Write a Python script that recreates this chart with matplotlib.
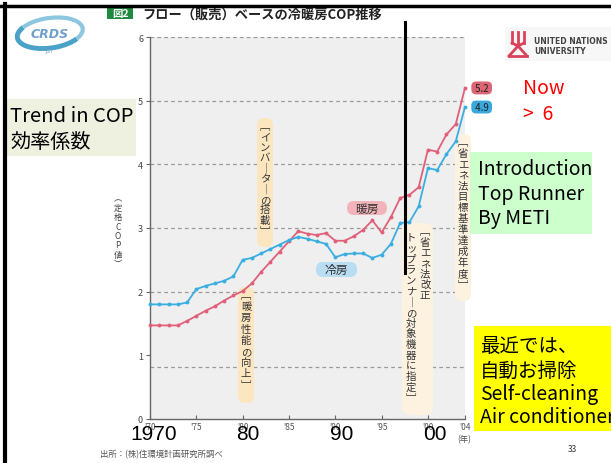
import matplotlib
matplotlib.use("Agg")
import matplotlib.pyplot as plt
from matplotlib.patches import FancyBboxPatch, Rectangle, Arc
from matplotlib.transforms import Affine2D
from matplotlib.lines import Line2D

plt.rcParams["font.family"] = ["Noto Sans CJK JP", "DejaVu Sans"]

# ---- data -------------------------------------------------------------
years = list(range(1970, 2005))
cooling = [1.80, 1.80, 1.80, 1.80, 1.83, 2.04, 2.09, 2.13, 2.17, 2.24,
           2.50, 2.53, 2.60, 2.67, 2.74, 2.81, 2.86, 2.83, 2.79, 2.75,
           2.54, 2.59, 2.60, 2.60, 2.53, 2.58, 2.75, 3.08, 3.09, 3.34,
           3.94, 3.91, 4.16, 4.36, 4.90]
heating = [1.47, 1.47, 1.47, 1.47, 1.54, 1.62, 1.70, 1.77, 1.86, 1.94,
           2.01, 2.13, 2.31, 2.47, 2.63, 2.79, 2.95, 2.91, 2.89, 2.92,
           2.80, 2.80, 2.87, 2.97, 3.12, 2.93, 3.17, 3.47, 3.52, 3.64,
           4.23, 4.20, 4.47, 4.63, 5.20]
xtick_years = [1970, 1975, 1980, 1985, 1990, 1995, 2000, 2004]
xtick_labels = ["'70", "'75", "'80", "'85", "'90", "'95", "'00", "'04"]
yticks = [0, 1, 2, 3, 4, 5, 6]
grid_levels = [0.82, 2, 3, 4, 5, 6]
decade_labels = ["1970", "80", "90", "00"]

RED = "#e0607a"
BLUE = "#3aaee0"

W, H = 611, 464
fig = plt.figure(figsize=(W / 100, H / 100), dpi=100)
fig.patch.set_facecolor("white")
# pixel coordinates, origin at the top-left corner
T = Affine2D().scale(1 / W, -1 / H).translate(0, 1) + fig.transFigure

ax = fig.add_axes([150 / W, 1 - 420 / H, 315 / W, 382 / H])
ax.set_xlim(1970, 2004)
ax.set_ylim(0, 6)
ax.set_facecolor("#efefef")

for v in grid_levels:
    ax.axhline(v, color="#9a9a9a", lw=0.9, ls=(0, (3, 2.5)), zorder=1)

ax.plot(years, heating, color=RED, lw=1.3, marker="o", ms=1.8,
        clip_on=False, zorder=4)
ax.plot(years, cooling, color=BLUE, lw=1.3, marker="o", ms=1.8,
        clip_on=False, zorder=4)

for s in ("top", "right"):
    ax.spines[s].set_visible(False)
for s in ("left", "bottom"):
    ax.spines[s].set_color("#666666")
    ax.spines[s].set_linewidth(1.0)

ax.set_yticks(yticks)
ax.set_yticklabels([str(v) for v in yticks], fontsize=6.5, color="#444444")
ax.set_xticks(xtick_years)
ax.set_xticklabels(xtick_labels, fontsize=6, color="#555555")
ax.tick_params(axis="y", direction="out", length=3, pad=2, color="#666666")
ax.tick_params(axis="x", direction="in", length=3, pad=2, color="#666666")


def vtext(x, y0, s, step, fs, color="#333333"):
    for i, ch in enumerate(s):
        ax.text(x, y0 + i * step, ch, transform=T, ha="center", va="center",
                fontsize=fs, color=color, clip_on=False, zorder=5)


def rbox(x0, y0, x1, y1, fc, r, z=2):
    p = FancyBboxPatch((x0, y0), x1 - x0, y1 - y0,
                       boxstyle=f"round,pad=0,rounding_size={r}",
                       transform=T, fc=fc, ec="none", zorder=z, clip_on=False)
    ax.add_artist(p)


# vertical annotations inside the plot
rbox(257, 119, 273, 248, "#fbe6c0", 7)
vtext(265, 127, "﹇インバ｜タ｜の搭載﹈", 10.4, 7.5)

rbox(238, 288, 254, 404, "#fbe6c0", 7)
vtext(246, 296, "﹇暖房性能の向上﹈", 11.2, 7.5)

rbox(402, 224, 433, 416, "#fdf2e0", 8)
vtext(425, 232, "﹇省エネ法改正", 10.7, 7.5)
vtext(411, 238, "トップランナ｜の対象機器に指定﹈", 10.7, 7.5)

rbox(455, 135, 471, 302, "#fdf2e0", 7)
vtext(463, 143, "﹇省エネ法目標基準達成年度﹈", 10.9, 7.5)

# series labels
rbox(347, 202, 387, 216, "#f2b3ba", 7, z=4.5)
ax.text(367, 209, "暖房", transform=T, ha="center", va="center", fontsize=8.5,
        color="#333333", zorder=5)
rbox(316, 263, 357, 278, "#b9ddf1", 7, z=4.5)
ax.text(336.5, 270.5, "冷房", transform=T, ha="center", va="center", fontsize=8.5,
        color="#333333", zorder=5)

# end-value badges
ax.text(2005.8, heating[-1], f" {heating[-1]:.1f} ", ha="center", va="center",
        fontsize=7, color="#222222", clip_on=False, zorder=5,
        bbox=dict(boxstyle="round,pad=0.15,rounding_size=0.5", fc="#dd6675", ec="none"))
ax.text(2005.8, cooling[-1], f" {cooling[-1]:.1f} ", ha="center", va="center",
        fontsize=7, color="#222222", clip_on=False, zorder=5,
        bbox=dict(boxstyle="round,pad=0.15,rounding_size=0.5", fc="#3aa8dc", ec="none"))

# y-axis caption, written vertically
for i, ch in enumerate("︵定格COP値︶"):
    fig.text(118, 199 + i * 9.4, ch, transform=T, ha="center", va="center",
             fontsize=6, color="#444444")

fig.text(464, 440, "(年)", transform=T, ha="center", va="center",
         fontsize=6, color="#555555")

# big decade labels under the axis
narrow = ["Liberation Sans Narrow", "Liberation Sans", "DejaVu Sans"]
for lab, xc in zip(decade_labels, [154, 248, 342, 435]):
    fig.text(xc, 435, lab, transform=T, ha="center", va="center",
             fontsize=15, color="black", family=narrow)

# marker line at the Top Runner revision
fig.add_artist(Line2D([405, 405], [23, 274], transform=T, color="black",
                      lw=2.2, zorder=6))

# header
fig.add_artist(Line2D([0, W], [6.5, 6.5], transform=T, color="black", lw=2.5))
fig.add_artist(Line2D([5, 5], [5, H], transform=T, color="black", lw=3))
fig.add_artist(Rectangle((107, 9), 26, 11, transform=T, fc="#1f8a3f", ec="none"))
fig.text(120, 14.5, "図2", transform=T, ha="center", va="center",
         fontsize=7.5, color="white", fontweight="bold")
fig.text(142, 15, "フロー（販売）ベースの冷暖房COP推移", transform=T,
         ha="left", va="center", fontsize=9.5, color="#222222",
         fontweight="bold")

# CRDS mark
fig.add_artist(Arc((50, 34), 66, 30, angle=-8, theta1=20, theta2=200,
                   transform=T, color="#4aa2c8", lw=3.5))
fig.add_artist(Arc((50, 34), 66, 30, angle=-8, theta1=200, theta2=380,
                   transform=T, color="#8cc6df", lw=3.0))
fig.text(50, 35, "CRDS", transform=T, ha="center", va="center", fontsize=9,
         color="#6f9fcc", fontstyle="italic", fontweight="bold",
         family=["DejaVu Sans"])
fig.text(50, 52, "JST", transform=T, ha="center", va="center", fontsize=4,
         color="#6f9fcc", fontstyle="italic", family=["DejaVu Sans"])

# UNU mark
fig.add_artist(Rectangle((505, 28), 106, 34, transform=T, fc="#f7f7f7", ec="none"))
for seg in ([(518, 518), (33, 47)], [(512, 512), (33, 44)], [(524, 524), (33, 44)],
            [(518, 509), (47, 57)], [(518, 527), (47, 57)],
            [(509, 527), (57, 57)], [(512, 518), (44, 47)], [(524, 518), (44, 47)]):
    fig.add_artist(Line2D(seg[0], seg[1], transform=T, color="#d9435a", lw=2))
fig.text(534, 42, "UNITED NATIONS", transform=T, ha="left", va="center",
         fontsize=5.5, color="#444444", fontweight="bold", family=["DejaVu Sans"])
fig.text(534, 51, "UNIVERSITY", transform=T, ha="left", va="center",
         fontsize=5.5, color="#444444", fontweight="bold", family=["DejaVu Sans"])

# side notes
fig.text(523, 89, "Now", transform=T, ha="left", va="center", fontsize=14,
         color="#ff0000")
fig.text(523, 114, ">  6", transform=T, ha="left", va="center", fontsize=14,
         color="#ff0000")

fig.add_artist(Rectangle((5, 100), 131, 57, transform=T, fc="#eef0e0", ec="none"))
fig.text(10, 116, "Trend in COP", transform=T, ha="left", va="center",
         fontsize=14.5, color="black")
fig.text(10, 143, "効率係数", transform=T, ha="left", va="center",
         fontsize=14.5, color="black")

fig.add_artist(Rectangle((470, 153), 122, 82, transform=T, fc="#ccffcc", ec="none"))
for txt, yc in (("Introduction", 170), ("Top Runner", 195), ("By METI", 219)):
    fig.text(478, yc, txt, transform=T, ha="left", va="center", fontsize=14,
             color="black")

fig.add_artist(Rectangle((474, 327), 140, 105, transform=T, fc="#ffff00", ec="none"))
for txt, yc in (("最近では、", 347), ("自動お掃除", 371), ("Self-cleaning", 395),
                ("Air conditioner", 418)):
    fig.text(480, yc, txt, transform=T, ha="left", va="center", fontsize=14,
             color="black")

# footer
fig.text(100, 455, "出所：(株)住環境計画研究所調べ", transform=T, ha="left",
         va="center", fontsize=6, color="#555555")
fig.text(572, 450, "33", transform=T, ha="center", va="center", fontsize=6,
         color="#333333")

fig.savefig("out.png", dpi=100)
